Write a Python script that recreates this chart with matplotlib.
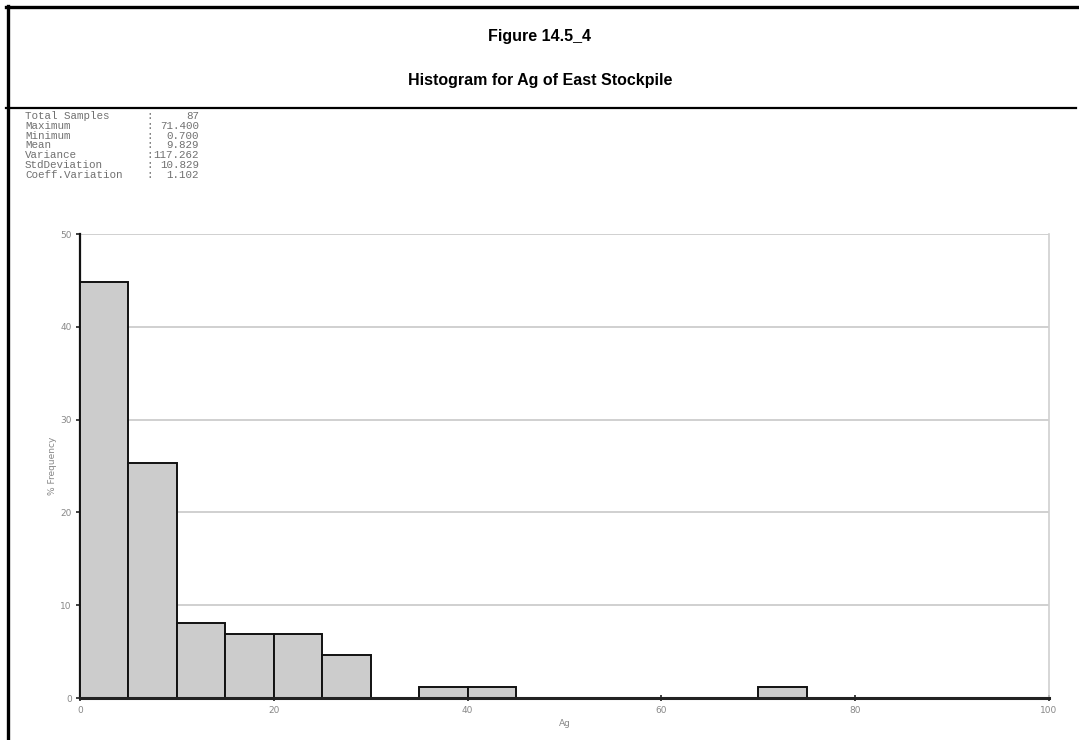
import matplotlib
matplotlib.use("Agg")
import matplotlib.pyplot as plt
from matplotlib.lines import Line2D

bin_edges = [0, 5, 10, 15, 20, 25, 30, 35, 40, 45, 50, 55, 60, 65, 70, 75, 80, 85, 90, 95, 100]
counts = [39, 22, 7, 6, 6, 4, 0, 1, 1, 0, 0, 0, 0, 0, 1, 0, 0, 0, 0, 0]
total_samples = 87
stat_names = ["Total Samples", "Maximum", "Minimum", "Mean", "Variance", "StdDeviation", "Coeff.Variation"]
stat_values = ["87", "71.400", "0.700", "9.829", "117.262", "10.829", "1.102"]
title1 = "Figure 14.5_4"
title2 = "Histogram for Ag of East Stockpile"
xticks = [0, 20, 40, 60, 80, 100]
yticks = [0, 10, 20, 30, 40, 50]

W, H = 1079, 740
fig = plt.figure(figsize=(W / 100, H / 100), dpi=100)

def fx(px):
    return px / W

def fy(py):
    return 1 - py / H

# frame lines
fig.add_artist(Line2D([fx(7.5), fx(7.5)], [fy(6), fy(740)], color="black", lw=2.4, transform=fig.transFigure))
fig.add_artist(Line2D([fx(6.3), fx(1079)], [fy(7), fy(7)], color="black", lw=2.4, transform=fig.transFigure))
fig.add_artist(Line2D([fx(6.3), fx(1076)], [fy(107.5), fy(107.5)], color="black", lw=1.6, transform=fig.transFigure))

fig.text(fx(540), fy(37), title1, ha="center", va="center", fontsize=11.5,
         fontweight="bold", family="Liberation Sans")
fig.text(fx(540), fy(80), title2, ha="center", va="center", fontsize=11.5,
         fontweight="bold", family="Liberation Sans")

# stats block
for i, (n, v) in enumerate(zip(stat_names, stat_values)):
    y = fy(116 + i * 9.8)
    fig.text(fx(25), y, n, ha="left", va="center", fontsize=7.8, family="Liberation Mono", color="#707070")
    fig.text(fx(146), y, ":", ha="left", va="center", fontsize=7.8, family="Liberation Mono", color="#707070")
    fig.text(fx(199), y, v, ha="right", va="center", fontsize=7.8, family="Liberation Mono", color="#707070")

ax = fig.add_axes([fx(80), fy(698), fx(1049) - fx(80), fy(234) - fy(698)])
pct = [c / total_samples * 100 for c in counts]
lefts = bin_edges[:-1]
widths = [b - a for a, b in zip(bin_edges[:-1], bin_edges[1:])]
ax.bar(lefts, pct, width=widths, align="edge", color="#cccccc", edgecolor="#111111", linewidth=1.4, zorder=3)

ax.set_xlim(0, 100)
ax.set_ylim(0, 50)
ax.set_xticks(xticks)
ax.set_yticks(yticks)
ax.yaxis.grid(True, color="#c8c8c8", lw=1.2, zorder=0)
ax.set_axisbelow(True)
ax.spines["top"].set_visible(False)
ax.spines["right"].set_color("#d0d0d0")
ax.spines["right"].set_linewidth(1.2)
ax.spines["left"].set_color("#111111")
ax.spines["left"].set_linewidth(1.6)
ax.spines["bottom"].set_color("#222222")
ax.spines["bottom"].set_linewidth(2.2)
ax.spines["bottom"].set_zorder(5)
ax.tick_params(axis="both", length=3, width=1.2, color="#222222", labelsize=6.5, labelcolor="#888888", pad=3)
ax.tick_params(axis="x", direction="inout", length=5)
ax.set_xlabel("Ag", fontsize=6.5, color="#888888", labelpad=3)
ax.set_ylabel("% Frequency", fontsize=6.5, color="#888888", labelpad=2)

fig.savefig("out.png", dpi=100)
